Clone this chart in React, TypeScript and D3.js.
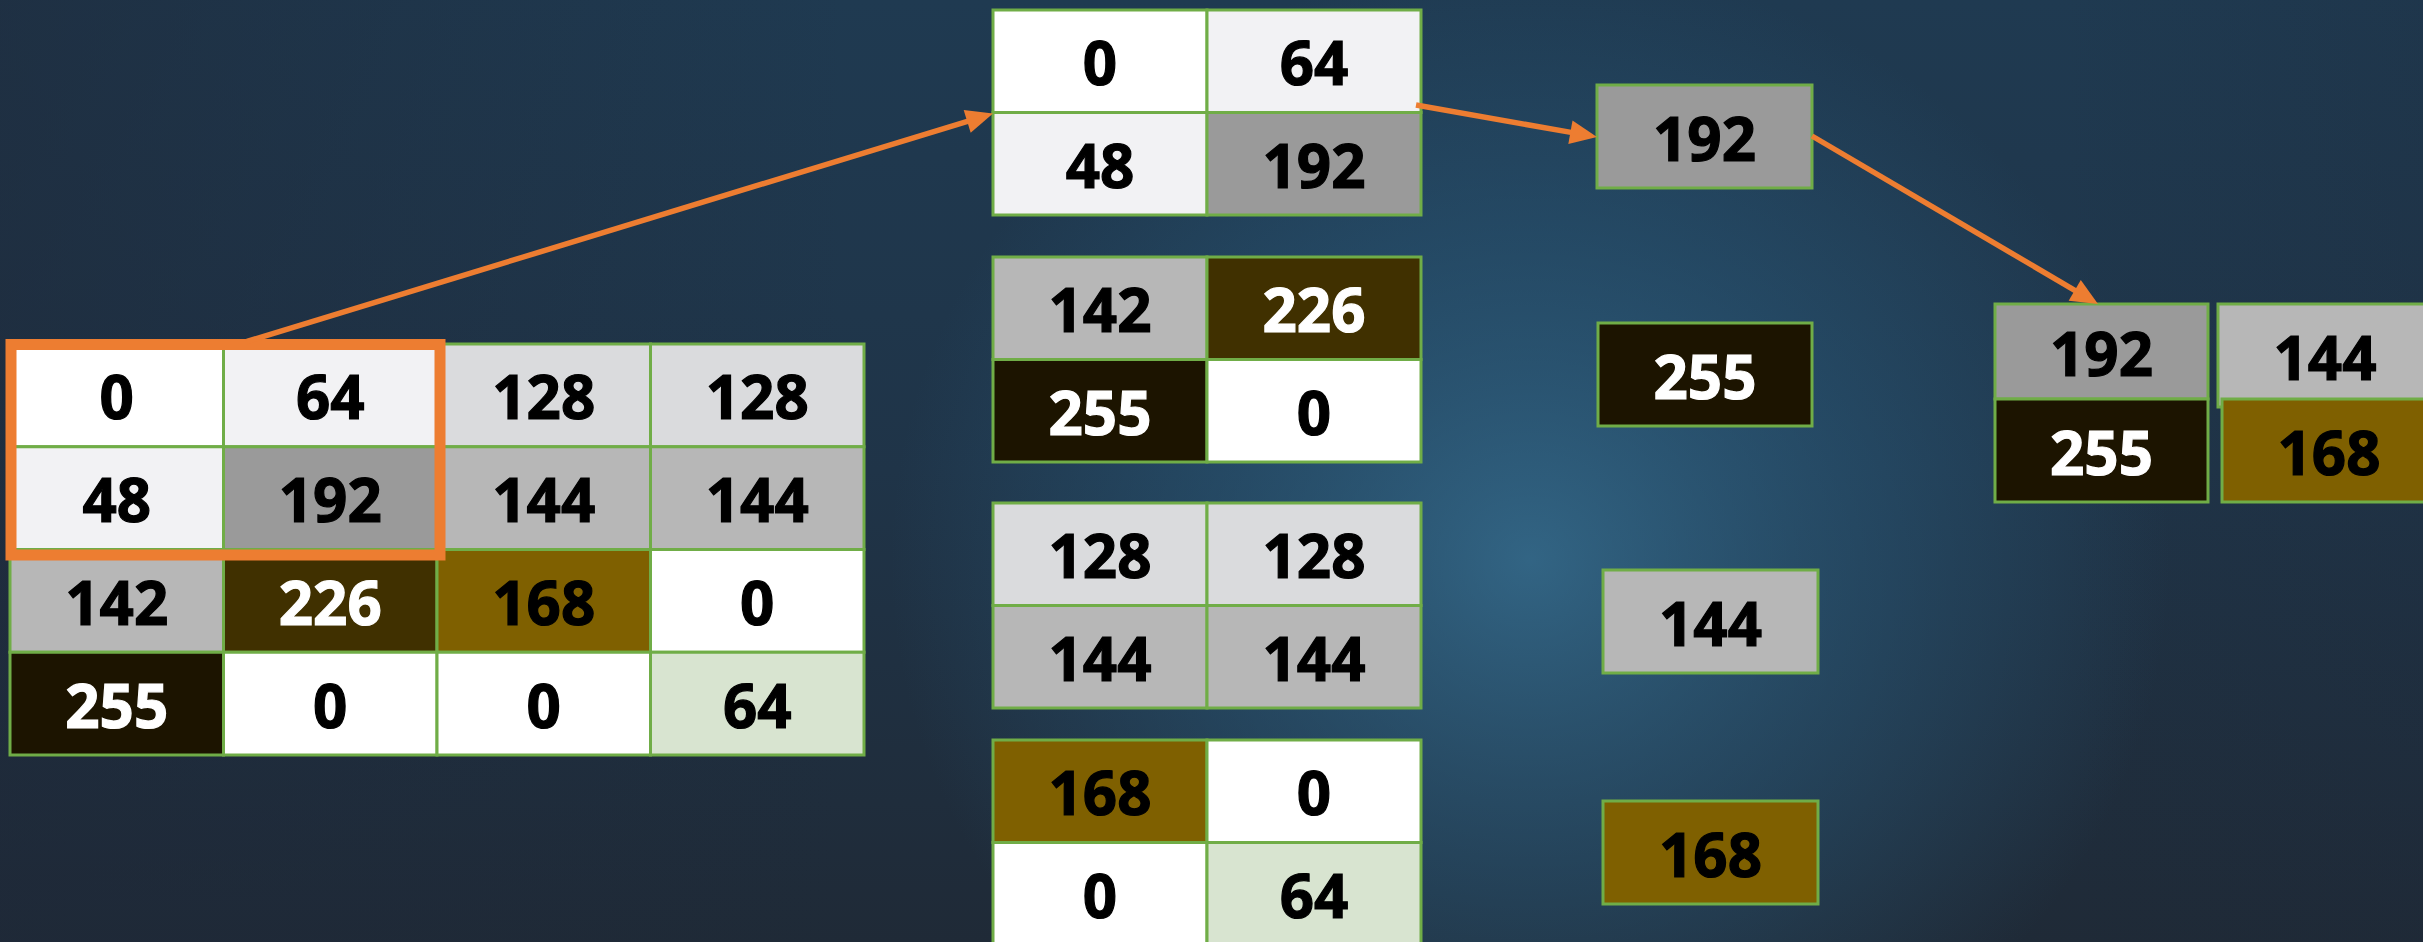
import React, { useEffect } from "react";
import * as d3 from "d3";

// ---- data ----
const inputRows = ["r0", "r1", "r2", "r3"];
const inputCols = ["c0", "c1", "c2", "c3"];
const inputValues: number[][] = [
  [0, 64, 128, 128],
  [48, 192, 144, 144],
  [142, 226, 168, 0],
  [255, 0, 0, 64],
];
const inputFills: string[][] = [
  ["#FFFFFF", "#F2F2F4", "#DADBDD", "#DADBDD"],
  ["#F2F2F4", "#9A9A9A", "#B7B7B7", "#B7B7B7"],
  ["#B7B7B7", "#403000", "#7F6000", "#FFFFFF"],
  ["#1C1400", "#FFFFFF", "#FFFFFF", "#D8E4D0"],
];
const lightText = [226, 255];

// 2x2 pooling windows (row offset, col offset) in the order listed in the middle column
const middleWindows: [number, number][] = [
  [0, 0],
  [2, 0],
  [0, 2],
  [2, 2],
];
const maxValues = [192, 255, 144, 168];
const maxFills = ["#9A9A9A", "#1C1400", "#B7B7B7", "#7F6000"];
const outputValues: number[][] = [
  [192, 144],
  [255, 168],
];
const outputFills: string[][] = [
  ["#9A9A9A", "#B7B7B7"],
  ["#1C1400", "#7F6000"],
];

// ---- layout ----
const W = 2423;
const H = 942;
const GREEN = "#70AD47";
const ORANGE = "#ED7D31";
const FONT = "'Open Sans', 'Noto Sans', sans-serif";

const inputBox = { x0: 10, x1: 864, y0: 344, y1: 755 };
const middleBox = { x0: 993, x1: 1421 };
const middleTops = [10, 257, 503, 740];
const middleH = 205;
const singleBoxes = [
  { x0: 1597, x1: 1812, y0: 85, y1: 188 },
  { x0: 1598, x1: 1812, y0: 323, y1: 426 },
  { x0: 1603, x1: 1818, y0: 570, y1: 673 },
  { x0: 1603, x1: 1818, y0: 801, y1: 904 },
];
const outputCells = [
  [
    { x0: 1995, x1: 2208, y0: 304, y1: 399 },
    { x0: 2218, x1: 2432, y0: 304, y1: 407 },
  ],
  [
    { x0: 1995, x1: 2208, y0: 399, y1: 502 },
    { x0: 2222, x1: 2436, y0: 399, y1: 502 },
  ],
];

export default function App() {
  useEffect(() => {
    document.body.style.margin = "0";
    document.body.style.overflow = "hidden";
  }, []);

  const xIn = d3.scaleBand<string>().domain(inputCols).range([inputBox.x0, inputBox.x1]);
  const yIn = d3.scaleBand<string>().domain(inputRows).range([inputBox.y0, inputBox.y1]);

  const textColor = (v: number) => (lightText.includes(v) ? "#FFFFFF" : "#000000");

  const cell = (
    key: string,
    x0: number,
    y0: number,
    w: number,
    h: number,
    v: number,
    fill: string,
    fs = 60
  ) => (
    <g key={key}>
      <rect x={x0} y={y0} width={w} height={h} fill={fill} stroke={GREEN} strokeWidth={3} />
      <text
        x={x0 + w / 2}
        y={y0 + h / 2 + 1}
        textAnchor="middle"
        dominantBaseline="central"
        fontFamily={FONT}
        fontWeight={700}
        fontSize={fs}
        fill={textColor(v)}
        stroke={textColor(v)}
        strokeWidth={1.2}
      >
        {v}
      </text>
    </g>
  );

  // middle column pools
  const xMid = d3.scaleBand<number>().domain([0, 1]).range([middleBox.x0, middleBox.x1]);
  const middle = middleWindows.map(([r0, c0], i) => {
    const yMid = d3
      .scaleBand<number>()
      .domain([0, 1])
      .range([middleTops[i], middleTops[i] + middleH]);
    const cells: JSX.Element[] = [];
    [0, 1].forEach((dr) =>
      [0, 1].forEach((dc) => {
        const v = inputValues[r0 + dr][c0 + dc];
        cells.push(
          cell(
            `m${i}-${dr}-${dc}`,
            xMid(dc)!,
            yMid(dr)!,
            xMid.bandwidth(),
            yMid.bandwidth(),
            v,
            inputFills[r0 + dr][c0 + dc]
          )
        );
      })
    );
    return <g key={`mid${i}`}>{cells}</g>;
  });

  // orange highlight around first window
  const hl = {
    x0: xIn(inputCols[0])! + 1,
    y0: yIn(inputRows[0])! + 0.5,
    x1: xIn(inputCols[1])! + xIn.bandwidth() + 3,
    y1: yIn(inputRows[1])! + yIn.bandwidth() + 5.5,
  };

  const arrows: { x1: number; y1: number; x2: number; y2: number }[] = [
    { x1: 247, y1: hl.y0 - 3, x2: middleBox.x0, y2: middleTops[0] + middleH / 2 + 1 },
    { x1: middleBox.x1 - 5, y1: 105, x2: singleBoxes[0].x0, y2: 137 },
    { x1: singleBoxes[0].x1, y1: 136, x2: 2098, y2: outputCells[0][0].y0 },
  ];

  const arrowEls = arrows.map((a, i) => {
    const ang = Math.atan2(a.y2 - a.y1, a.x2 - a.x1);
    const L = 27;
    const hw = 12;
    const bx = a.x2 - L * Math.cos(ang);
    const by = a.y2 - L * Math.sin(ang);
    const px = -Math.sin(ang) * hw;
    const py = Math.cos(ang) * hw;
    const path = d3.path();
    path.moveTo(a.x2, a.y2);
    path.lineTo(bx + px, by + py);
    path.lineTo(bx - px, by - py);
    path.closePath();
    return (
      <g key={`a${i}`}>
        <line x1={a.x1} y1={a.y1} x2={bx + Math.cos(ang) * 2} y2={by + Math.sin(ang) * 2} stroke={ORANGE} strokeWidth={5.5} />
        <path d={path.toString()} fill={ORANGE} />
      </g>
    );
  });

  return (
    <svg
      width={W}
      height={H}
      style={{ position: "absolute", left: 0, top: 0, display: "block" }}
      xmlns="http://www.w3.org/2000/svg"
    >
      <defs>
        <linearGradient id="bg" x1="0" y1="0" x2="0" y2="1">
          <stop offset="0" stopColor="#1F3A51" />
          <stop offset="0.5" stopColor="#1F3448" />
          <stop offset="1" stopColor="#1F2A37" />
        </linearGradient>
        <linearGradient id="bgx" x1="0" y1="0" x2="1" y2="0">
          <stop offset="0" stopColor="#1E2838" stopOpacity="0.55" />
          <stop offset="0.35" stopColor="#1E2838" stopOpacity="0" />
          <stop offset="0.85" stopColor="#1E2838" stopOpacity="0" />
          <stop offset="1" stopColor="#1E2838" stopOpacity="0.2" />
        </linearGradient>
        <radialGradient id="glow" cx="0.5" cy="0.5" r="0.5">
          <stop offset="0" stopColor="#3F86AE" stopOpacity="0.6" />
          <stop offset="0.55" stopColor="#2E6A90" stopOpacity="0.35" />
          <stop offset="1" stopColor="#2E6A90" stopOpacity="0" />
        </radialGradient>
      </defs>
      <rect width={W} height={H} fill="url(#bg)" />
      <rect width={W} height={H} fill="url(#bgx)" />
      <ellipse cx={1530} cy={560} rx={640} ry={600} fill="url(#glow)" />

      {/* input grid */}
      <g>
        {inputRows.map((r, ri) =>
          inputCols.map((c, ci) =>
            cell(
              `in-${ri}-${ci}`,
              xIn(c)!,
              yIn(r)!,
              xIn.bandwidth(),
              yIn.bandwidth(),
              inputValues[ri][ci],
              inputFills[ri][ci]
            )
          )
        )}
      </g>
      <rect
        x={hl.x0}
        y={hl.y0}
        width={hl.x1 - hl.x0}
        height={hl.y1 - hl.y0}
        fill="none"
        stroke={ORANGE}
        strokeWidth={11}
      />

      {middle}

      {singleBoxes.map((b, i) =>
        cell(`s${i}`, b.x0, b.y0, b.x1 - b.x0, b.y1 - b.y0, maxValues[i], maxFills[i])
      )}

      {outputValues.map((row, ri) =>
        row.map((v, ci) => {
          const b = outputCells[ri][ci];
          return cell(`o${ri}-${ci}`, b.x0, b.y0, b.x1 - b.x0, b.y1 - b.y0, v, outputFills[ri][ci]);
        })
      )}

      {arrowEls}
    </svg>
  );
}
